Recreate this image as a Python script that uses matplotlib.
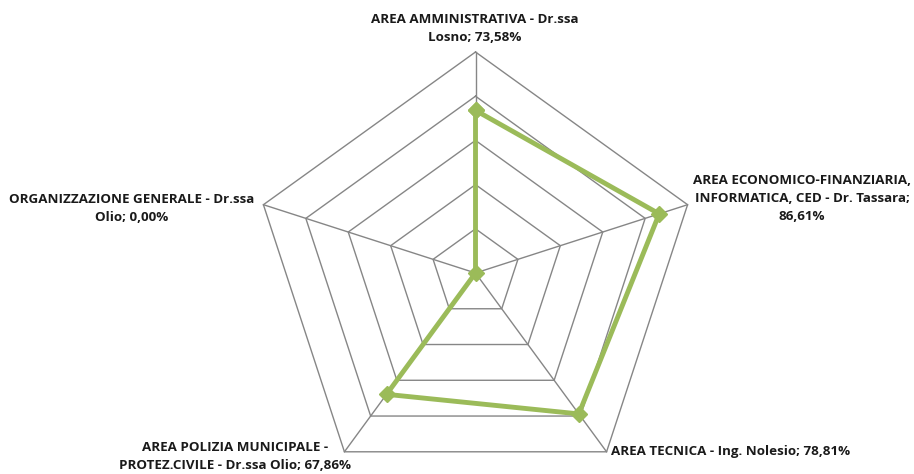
import numpy as np
import matplotlib
matplotlib.use("Agg")
import matplotlib.pyplot as plt

categories = ["AREA AMMINISTRATIVA - Dr.ssa\nLosno; 73,58%",
              "AREA ECONOMICO-FINANZIARIA,\nINFORMATICA, CED - Dr. Tassara;\n86,61%",
              "AREA TECNICA - Ing. Nolesio; 78,81%",
              "AREA POLIZIA MUNICIPALE -\nPROTEZ.CIVILE - Dr.ssa Olio; 67,86%",
              "ORGANIZZAZIONE GENERALE - Dr.ssa\nOlio; 0,00%"]
values = [73.58, 86.61, 78.81, 67.86, 0.00]
rings = [20, 40, 60, 80, 100]

plt.rcParams['font.family'] = ['Open Sans', 'DejaVu Sans']

fig = plt.figure(figsize=(9.14, 4.74), dpi=100)
ax = fig.add_axes([0, 0, 1, 1])
ax.set_xlim(0, 914)
ax.set_ylim(0, 474)
ax.axis('off')

cx, cy, Rx, Ry = 475.5, 201, 223, 221
n = len(values)
ang = np.pi / 2 - np.arange(n) * 2 * np.pi / n
gray = '#868686'

# grid rings
for r in rings:
    xs = cx + r / 100 * Rx * np.cos(ang)
    ys = cy + r / 100 * Ry * np.sin(ang)
    ax.plot(np.append(xs, xs[0]), np.append(ys, ys[0]), color=gray, lw=1, zorder=1)
# spokes
for a in ang:
    ax.plot([cx, cx + Rx * np.cos(a)], [cy, cy + Ry * np.sin(a)], color=gray, lw=1, zorder=1)

v = np.array(values) / 100
px = cx + v * Rx * np.cos(ang)
py = cy + v * Ry * np.sin(ang)
ax.plot(np.append(px, px[0]), np.append(py, py[0]), color='#9BBB59', lw=3.5,
        marker='D', markersize=8, zorder=3, solid_joinstyle='miter')

# labels
lab_pos = [(475, 445.5, 'center'), (802, 276, 'center'), (611, 23, 'left'),
           (235, 17.5, 'center'), (132, 266, 'center')]
for (x, y, ha), t in zip(lab_pos, categories):
    ax.text(x, y, t, ha=ha, va='center', fontsize=9.6, fontweight='bold',
            color='#1a1a1a', linespacing=1.5, multialignment='center')

fig.savefig('out.png', dpi=100)
